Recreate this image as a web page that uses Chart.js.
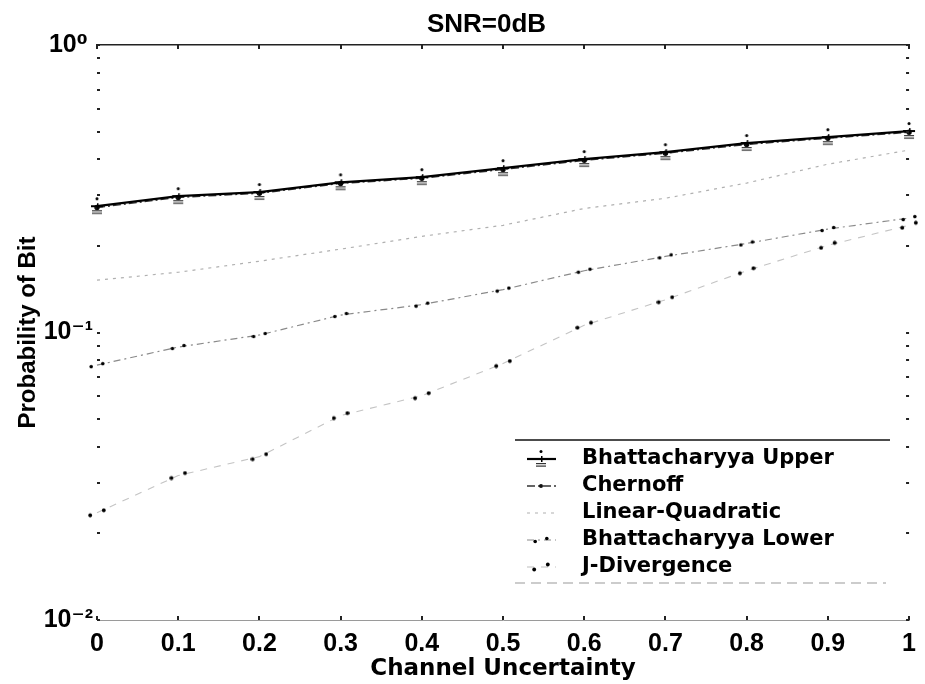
<!DOCTYPE html>
<html>
<head>
<meta charset="utf-8">
<script src="https://cdn.jsdelivr.net/npm/chart.js@4/dist/chart.umd.min.js"></script>
<style>
  html, body { margin: 0; padding: 0; background: #ffffff; }
  #wrap { width: 925px; height: 684px; }
</style>
</head>
<body>
<div id="wrap"><canvas id="c" width="925" height="684"></canvas></div>
<script>
// ---- data ----
const channelUncertainty = [0, 0.1, 0.2, 0.3, 0.4, 0.5, 0.6, 0.7, 0.8, 0.9, 1];
const xTickLabels = ['0', '0.1', '0.2', '0.3', '0.4', '0.5', '0.6', '0.7', '0.8', '0.9', '1'];

const bhattUpper      = [0.275, 0.298, 0.308, 0.333, 0.347, 0.373, 0.401, 0.424, 0.456, 0.478, 0.502];
const chernoff        = [0.272, 0.295, 0.305, 0.330, 0.344, 0.369, 0.397, 0.420, 0.451, 0.474, 0.497];
const linearQuadratic = [0.152, 0.162, 0.177, 0.195, 0.216, 0.236, 0.270, 0.293, 0.331, 0.385, 0.431];
const bhattLower      = [0.077, 0.089, 0.098, 0.115, 0.125, 0.141, 0.164, 0.184, 0.204, 0.229, 0.250];
const jDivergence     = [0.0236, 0.0318, 0.0370, 0.0514, 0.0603, 0.0780, 0.106, 0.130, 0.164, 0.201, 0.236];

const seriesNames = ['Bhattacharyya Upper', 'Chernoff', 'Linear-Quadratic', 'Bhattacharyya Lower', 'J-Divergence'];

const yTickValues = [0.01, 0.02, 0.03, 0.04, 0.05, 0.06, 0.07, 0.08, 0.09,
                     0.1, 0.2, 0.3, 0.4, 0.5, 0.6, 0.7, 0.8, 0.9, 1];
const yMajorValues = [0.01, 0.1, 1];
const yMajorLabels = ['10\u207B\u00B2', '10\u207B\u00B9', '10\u2070'];

const chartTitle = 'SNR=0dB';
const xTitle = 'Channel Uncertainty';
const yTitle = 'Probability of Bit';

// ---- marker images (styles) ----
function makeMarker(w, h, draw) {
  const c = document.createElement('canvas');
  c.width = w; c.height = h;
  const g = c.getContext('2d');
  g.fillStyle = '#000'; g.strokeStyle = '#000';
  draw(g);
  return c;
}
const upperMarker = makeMarker(16, 22, g => {
  g.beginPath(); g.arc(8, 3.5, 1.5, 0, Math.PI * 2); g.fill();
  g.fillRect(2, 10, 12, 2);
  g.fillRect(8, 8, 1.5, 6);
  g.fillStyle = '#333';
  g.fillRect(3, 15, 10, 1.2);
  g.fillRect(3, 17.5, 10, 1.2);
});
const lowerMarker = makeMarker(16, 8, g => {
  g.beginPath(); g.arc(2.2, 5.5, 1.8, 0, Math.PI * 2); g.fill();
  g.beginPath(); g.arc(13.8, 2.5, 1.8, 0, Math.PI * 2); g.fill();
});
const jMarker = makeMarker(18, 10, g => {
  g.beginPath(); g.arc(2.2, 7.5, 1.9, 0, Math.PI * 2); g.fill();
  g.beginPath(); g.arc(15.8, 2.5, 1.9, 0, Math.PI * 2); g.fill();
});

function pts(arr) { return channelUncertainty.map((x, i) => ({ x: x, y: arr[i] })); }

const ARIAL = "'Liberation Sans', Arial, 'DejaVu Sans', sans-serif";
const WIDE = "'DejaVu Sans', 'Liberation Sans', sans-serif";

// ---- plugins ----
const titleShift = {
  id: 'titleShift',
  afterLayout(chart) {
    const t = chart.titleBlock;
    if (t) { t.left = 48; t.right = 925; t.width = 877; }
  }
};

const frameTicks = {
  id: 'frameTicks',
  afterDraw(chart) {
    const { ctx, chartArea: a, scales } = chart;
    ctx.save();
    ctx.fillStyle = '#222';
    yTickValues.forEach(v => {
      const py = Math.round(scales.y.getPixelForValue(v));
      ctx.fillRect(a.left, py - 1, 3, 2);
      ctx.fillRect(a.right - 3, py - 1, 3, 2);
    });
    channelUncertainty.forEach(v => {
      const px = Math.round(scales.x.getPixelForValue(v));
      ctx.fillRect(px - 1, a.bottom - 4, 2, 4);
      ctx.fillRect(px - 1, a.top, 2, 4);
    });
    ctx.restore();
  }
};

const boxLegend = {
  id: 'boxLegend',
  afterDraw(chart) {
    const ctx = chart.ctx;
    ctx.save();
    ctx.strokeStyle = '#111'; ctx.lineWidth = 1.5; ctx.setLineDash([]);
    ctx.beginPath(); ctx.moveTo(515, 440); ctx.lineTo(890, 440); ctx.stroke();
    ctx.strokeStyle = '#999'; ctx.lineWidth = 1; ctx.setLineDash([10, 6]);
    ctx.beginPath(); ctx.moveTo(515, 583); ctx.lineTo(886, 583); ctx.stroke();
    chart.data.datasets.forEach((ds, i) => {
      const yy = 459 + i * 27;
      ctx.save();
      ctx.strokeStyle = ds.borderColor; ctx.lineWidth = ds.borderWidth;
      ctx.setLineDash(ds.borderDash || []);
      ctx.beginPath(); ctx.moveTo(527, yy); ctx.lineTo(556, yy); ctx.stroke();
      ctx.restore();
      const ps = ds.pointStyle;
      if (ps && typeof ps === 'object') {
        ctx.drawImage(ps, 541 - ps.width / 2, yy - ps.height / 2);
      } else if (ds.pointRadius > 0) {
        ctx.fillStyle = ds.pointBackgroundColor;
        ctx.beginPath(); ctx.arc(541, yy, ds.pointRadius, 0, Math.PI * 2); ctx.fill();
      }
      ctx.fillStyle = '#000';
      ctx.font = 'bold 21px ' + WIDE;
      ctx.textBaseline = 'middle'; ctx.textAlign = 'left';
      ctx.fillText(ds.label, 582, yy);
    });
    ctx.restore();
  }
};

new Chart(document.getElementById('c'), {
  type: 'line',
  data: {
    datasets: [
      { label: seriesNames[0], data: pts(bhattUpper), borderColor: '#000', borderWidth: 2.2,
        pointStyle: upperMarker, pointRadius: 6, clip: false, tension: 0 },
      { label: seriesNames[1], data: pts(chernoff), borderColor: '#333', borderWidth: 1.4,
        borderDash: [8, 3, 2, 3], pointStyle: 'circle', pointRadius: 2,
        pointBackgroundColor: '#111', pointBorderColor: '#111', clip: false, tension: 0 },
      { label: seriesNames[2], data: pts(linearQuadratic), borderColor: '#b0b0b0', borderWidth: 1.2,
        borderDash: [3, 5], pointRadius: 0, clip: false, tension: 0 },
      { label: seriesNames[3], data: pts(bhattLower), borderColor: '#8a8a8a', borderWidth: 1.2,
        borderDash: [7, 4, 2, 4], pointStyle: lowerMarker, pointRadius: 6, clip: false, tension: 0 },
      { label: seriesNames[4], data: pts(jDivergence), borderColor: '#c4c4c4', borderWidth: 1.1,
        borderDash: [7, 7], pointStyle: jMarker, pointRadius: 6, clip: false, tension: 0 }
    ]
  },
  options: {
    responsive: false,
    animation: false,
    devicePixelRatio: 1,
    layout: { padding: { left: 0, right: 15, top: 0, bottom: 0 } },
    plugins: {
      legend: { display: false },
      tooltip: { enabled: false },
      title: {
        display: true, text: chartTitle, color: '#000',
        font: { family: ARIAL, size: 26, weight: 'bold' },
        padding: { top: 9.4, bottom: 4.4 }
      }
    },
    scales: {
      x: {
        type: 'linear', position: 'bottom', min: 0, max: 1,
        afterBuildTicks(s) { s.ticks = channelUncertainty.map(v => ({ value: v })); },
        afterFit(s) { s.height = 64; },
        ticks: {
          autoSkip: false, maxRotation: 0, color: '#000', padding: 9,
          font: { family: ARIAL, size: 25, weight: 'bold' },
          callback: (v, i) => xTickLabels[i]
        },
        grid: { display: false, drawTicks: false },
        border: { display: true, color: '#9a9a9a', width: 1, dash: [9, 5] },
        title: { display: true, text: xTitle, color: '#000',
                 font: { family: WIDE, size: 23, weight: 'bold' }, padding: { top: 0, bottom: 1 } }
      },
      xTop: {
        type: 'linear', position: 'top', min: 0, max: 1,
        ticks: { display: false },
        grid: { display: false, drawTicks: false },
        border: { display: true, color: '#222', width: 1.5 },
        afterFit(s) { s.height = 0; }
      },
      y: {
        type: 'logarithmic', position: 'left', min: 0.01, max: 1,
        afterBuildTicks(s) { s.ticks = yTickValues.map(v => ({ value: v })); },
        afterFit(s) { s.width = 97; },
        ticks: {
          autoSkip: false, color: '#000', padding: 4, crossAlign: 'center',
          font: { family: ARIAL, size: 25, weight: 'bold' },
          callback: (v) => {
            const k = yMajorValues.findIndex(m => Math.abs(m - v) < 1e-9);
            return k >= 0 ? yMajorLabels[k] : '';
          }
        },
        grid: { display: false, drawTicks: false },
        border: { display: false },
        title: { display: true, text: yTitle, color: '#000',
                 font: { family: ARIAL, size: 24, weight: 'bold' }, padding: { top: 14, bottom: 0 } }
      }
    }
  },
  plugins: [titleShift, frameTicks, boxLegend]
});
</script>
</body>
</html>
